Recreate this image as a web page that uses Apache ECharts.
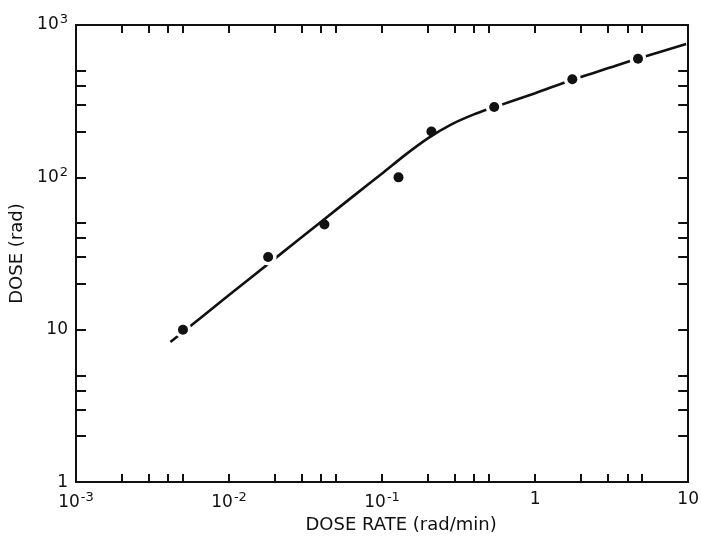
<!DOCTYPE html>
<html>
<head>
<meta charset="utf-8">
<script src="https://cdn.jsdelivr.net/npm/echarts@6/dist/echarts.min.js"></script>
<style>
html,body{margin:0;padding:0;background:#fff;}
#chart{width:702px;height:539px;}
</style>
</head>
<body>
<div id="chart"></div>
<script>
// Measured points (dose rate in rad/min, dose in rad)
var pointRate = [0.005, 0.018, 0.042, 0.128, 0.21, 0.54, 1.75, 4.7];
var pointDose = [10, 30, 49, 100, 200, 290, 440, 600];
var pointGap  = [true, true, false, false, false, true, true, true];

// Fitted curve
var curveRate = [0.00414, 0.01, 0.02, 0.04, 0.07, 0.1, 0.141, 0.2, 0.282, 0.398, 0.537, 1.0, 1.74, 3.13, 4.66, 9.7];
var curveDose = [8.3, 16.9, 29.4, 51.2, 80, 106, 140, 181, 222, 259, 288, 357, 436, 528, 601, 750];

// Ticks
var xMajor = [0.001, 0.01, 0.1, 1, 10];
var xMajorText = [['10', '-3'], ['10', '-2'], ['10', '-1'], ['1', ''], ['10', '']];
var yMajor = [1, 10, 100, 1000];
var yMajorText = [['1', ''], ['10', ''], ['10', '2'], ['10', '3']];
var minorMult = [1, 2, 3, 4, 5];

function decadeTicks(lo, hi) {
  var out = [];
  for (var d = lo; d <= hi; d *= 10) {
    for (var i = 0; i < minorMult.length; i++) {
      var v = +(d * minorMult[i]).toPrecision(6);
      if (v <= hi) out.push(v);
    }
  }
  return out;
}
var xTicks = decadeTicks(0.001, 10);
var yTicks = decadeTicks(1, 1000);

function fmt(list, textList) {
  return function (v) {
    for (var i = 0; i < list.length; i++) {
      if (Math.abs(Math.log10(v) - Math.log10(list[i])) < 1e-6) {
        var t = textList[i];
        return t[1] ? '{b|' + t[0] + '}{s|' + t[1] + '}' : '{b|' + t[0] + '}';
      }
    }
    return '';
  };
}

var FONT = 'DejaVu Sans';
var rich = {
  b: {fontFamily: FONT, fontSize: 17, color: '#111'},
  s: {fontFamily: FONT, fontSize: 13, color: '#111', padding: [0, 0, 10, 1]}
};
var axisLine = {show: true, lineStyle: {color: '#111', width: 2}};

function xAx(pos, labels) {
  return {
    type: 'log', logBase: 10, min: 0.001, max: 10, position: pos,
    axisLine: axisLine,
    axisTick: {show: true, inside: true, length: 8, customValues: xTicks, lineStyle: {color: '#111', width: 2}},
    axisLabel: labels ? {show: true, customValues: xMajor, formatter: fmt(xMajor, xMajorText), rich: rich, margin: 9} : {show: false},
    splitLine: {show: false}, minorTick: {show: false},
    name: labels ? 'DOSE RATE (rad/min)' : '',
    nameLocation: 'middle', nameGap: 32,
    nameTextStyle: {fontFamily: FONT, fontSize: 18, color: '#111', padding: [0, 0, 0, 38]}
  };
}
function yAx(pos, labels) {
  return {
    type: 'log', logBase: 10, min: 1, max: 1000, position: pos,
    axisLine: axisLine,
    axisTick: {show: true, inside: true, length: 10, customValues: yTicks, lineStyle: {color: '#111', width: 2}},
    axisLabel: labels ? {show: true, customValues: yMajor, formatter: fmt(yMajor, yMajorText), rich: rich, margin: 8} : {show: false},
    splitLine: {show: false}, minorTick: {show: false},
    name: labels ? 'DOSE (rad)' : '',
    nameLocation: 'middle', nameGap: 46,
    nameTextStyle: {fontFamily: FONT, fontSize: 18, color: '#111'}
  };
}

var curveData = curveRate.map(function (x, i) { return [x, curveDose[i]]; });
var pointData = pointRate.map(function (x, i) { return [x, pointDose[i]]; });
var haloData = pointRate.map(function (x, i) { return pointGap[i] ? [x, pointDose[i]] : null; })
  .filter(function (d) { return d; });

var chart = echarts.init(document.getElementById('chart'), null, {renderer: 'canvas'});
chart.setOption({
  backgroundColor: '#fff',
  animation: false,
  grid: {left: 76, right: 12, top: 25, bottom: 56, containLabel: false},
  xAxis: [xAx('bottom', true), xAx('top', false)],
  yAxis: [yAx('left', true), yAx('right', false)],
  series: [
    {
      type: 'line', data: curveData, smooth: 0.25, showSymbol: false,
      lineStyle: {color: '#111', width: 2.6}, z: 2
    },
    {
      type: 'scatter', data: haloData, symbol: 'circle', symbolSize: 17,
      itemStyle: {color: '#fff', opacity: 1}, z: 3, silent: true
    },
    {
      type: 'scatter', data: pointData, symbol: 'circle', symbolSize: 10,
      itemStyle: {color: '#111', opacity: 1}, z: 4
    }
  ]
});
</script>
</body>
</html>
